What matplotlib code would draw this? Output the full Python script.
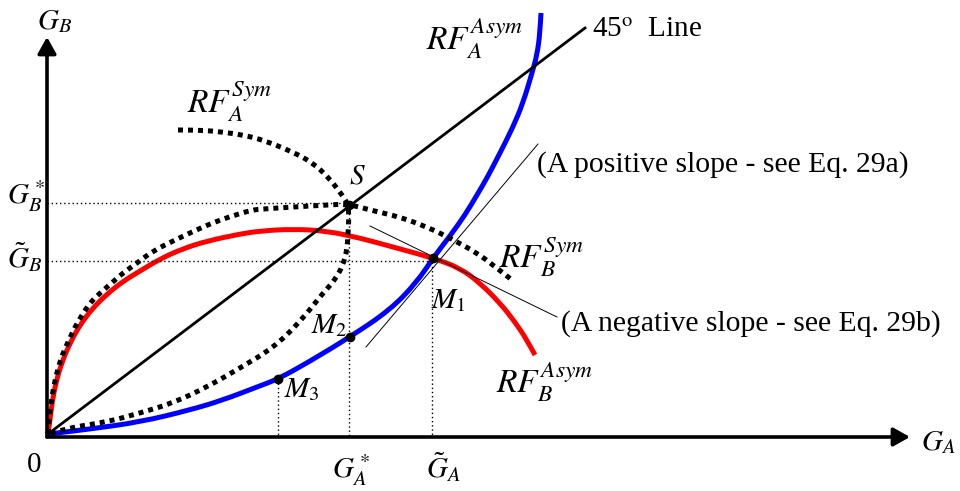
import matplotlib
matplotlib.use("Agg")
import matplotlib.pyplot as plt
from matplotlib.patches import PathPatch
from matplotlib.path import Path

plt.rcParams["font.family"] = ["Liberation Serif", "DejaVu Serif"]
plt.rcParams["mathtext.fontset"] = "stix"

# -----------------------------------------------------------------------------
# Curve shapes (pixel space, y grows downward)
# -----------------------------------------------------------------------------
rfa_sym_x = [178, 200, 222, 243, 263, 293, 313, 328, 340, 348, 349, 348, 347,
             343, 335, 323, 300, 273, 240, 207, 173, 140, 107, 67, 48]
rfa_sym_y = [130, 130, 132, 135, 140, 152, 163, 177, 192, 204, 217, 233, 250,
             265, 280, 293, 322, 348, 368, 387, 403, 413, 422, 428, 434]

rfb_sym_x = [48, 49, 51, 54, 58, 63, 69, 75, 82, 90, 98, 107, 115, 123, 137,
             153, 173, 192, 212, 232, 252, 263, 293, 327, 348, 370, 400, 427,
             450, 477, 493, 512]
rfb_sym_y = [434, 420, 403, 385, 368, 353, 340, 327, 315, 303, 295, 287, 280,
             273, 263, 251, 241, 232, 223, 216, 210, 209, 207, 205, 204, 210,
             217, 227, 238, 253, 265, 280]

rfb_asym_x = [48, 50, 52, 56, 62, 70, 80, 92, 106, 122, 140, 160, 182, 207,
              240, 260, 293, 327, 360, 393, 433, 460, 480, 500, 515, 527, 535]
rfb_asym_y = [434, 420, 403, 382, 362, 343, 325, 309, 295, 282, 271, 259, 249,
              241, 234, 231, 229, 231, 238, 247, 258, 268, 283, 303, 322, 340,
              355]

rfa_asym_x = [48, 57, 90, 140, 190, 223, 257, 278, 307, 350, 390, 417, 433,
              450, 465, 477, 487, 500, 513, 523, 532, 537, 540, 541]
rfa_asym_y = [434, 433, 429, 422, 410, 400, 387, 379, 363, 337, 310, 282, 258,
              236, 215, 195, 178, 153, 127, 103, 73, 55, 33, 13]

line45_x = [48, 585]
line45_y = [434, 28]

pos_slope_x = [366, 538]
pos_slope_y = [347, 144]
neg_slope_x = [370, 557]
neg_slope_y = [226, 317]

# equilibrium points S, M1, M2, M3
pts_x = [349, 433, 350, 278]
pts_y = [205, 258, 337, 379]

origin = (47, 437)
gb_star, gb_tilde = 203, 261
ga_star, ga_tilde, ga_m3 = 349, 432, 278


def smooth_path(xs, ys):
    # quadratic bezier through midpoints, read points act as control points
    pts = list(zip(xs, ys))
    verts = [pts[0]]
    codes = [Path.MOVETO]
    for i in range(1, len(pts) - 2):
        mid = ((pts[i][0] + pts[i + 1][0]) / 2, (pts[i][1] + pts[i + 1][1]) / 2)
        verts += [pts[i], mid]
        codes += [Path.CURVE3, Path.CURVE3]
    verts += [pts[-2], pts[-1]]
    codes += [Path.CURVE3, Path.CURVE3]
    return Path(verts, codes)


def curve(xs, ys, **kw):
    ax.add_patch(PathPatch(smooth_path(xs, ys), fill=False, **kw))


# -----------------------------------------------------------------------------
# Figure
# -----------------------------------------------------------------------------
fig = plt.figure(figsize=(9.6, 4.91), dpi=100)
ax = fig.add_axes([0, 0, 1, 1])
ax.set_xlim(0, 960)
ax.set_ylim(491, 0)
ax.axis("off")

# axes with arrows
arrow = dict(arrowstyle="-|>,head_length=0.5,head_width=0.28", lw=2.6,
             color="black", mutation_scale=20, shrinkA=0, shrinkB=0)
ax.annotate("", xy=(910, origin[1]), xytext=origin, arrowprops=arrow)
ax.annotate("", xy=(origin[0], 37), xytext=origin, arrowprops=arrow)

# fine dotted guide lines
guide = dict(color="black", lw=1.0, linestyle=(0, (1, 2)))
ax.plot([origin[0], pts_x[0]], [gb_star, gb_star], **guide)
ax.plot([origin[0], pts_x[1]], [gb_tilde, gb_tilde], **guide)
ax.plot([ga_star, ga_star], [pts_y[0], origin[1]], **guide)
ax.plot([ga_tilde, ga_tilde], [pts_y[1], origin[1]], **guide)
ax.plot([ga_m3, ga_m3], [pts_y[3], origin[1]], **guide)

# thin tangent lines
ax.plot(pos_slope_x, pos_slope_y, color="black", lw=0.7)
ax.plot(neg_slope_x, neg_slope_y, color="black", lw=0.7)

# 45 degree line
ax.plot(line45_x, line45_y, color="black", lw=2.0)

# reaction functions
curve(rfb_asym_x, rfb_asym_y, edgecolor="#ff0000", lw=3.6, capstyle="butt")
curve(rfa_asym_x, rfa_asym_y, edgecolor="#0000ff", lw=3.6, capstyle="butt")
dots = dict(edgecolor="black", lw=3.6, linestyle=(0, (1, 1)), capstyle="butt")
curve(rfa_sym_x, rfa_sym_y, **dots)
curve(rfb_sym_x, rfb_sym_y, **dots)

ax.plot(pts_x, pts_y, "o", color="black", ms=6)

# labels
fs = 21
def label(x, y, s, size=fs):
    ax.text(x, y, s, fontsize=size, ha="left", va="baseline")

label(37, 29, r"$G_B$")
label(7, 204, r"$G_B^*$")
label(7, 268, r"$\tilde{G}_B$")
label(27, 472, "0")
label(332, 478, r"$G_A^*$")
label(426, 478, r"$\tilde{G}_A$")
label(921, 450, r"$G_A$")
label(187, 113, r"$RF_A^{Sym}$", 24)
label(426, 50, r"$RF_A^{Asym}$", 24)
label(499, 268, r"$RF_B^{Sym}$", 24)
label(496, 393, r"$RF_B^{Asym}$", 24)
label(431, 308, r"$M_1$")
label(311, 333, r"$M_2$")
label(284, 397, r"$M_3$")
label(349, 183, r"$S$")
label(592, 37, r"45$^{\mathrm{o}}$  Line")
label(537, 172, "(A positive slope - see Eq. 29a)", 21.3)
label(561, 331, "(A negative slope - see Eq. 29b)", 21.3)

fig.savefig("out.png", dpi=100)
